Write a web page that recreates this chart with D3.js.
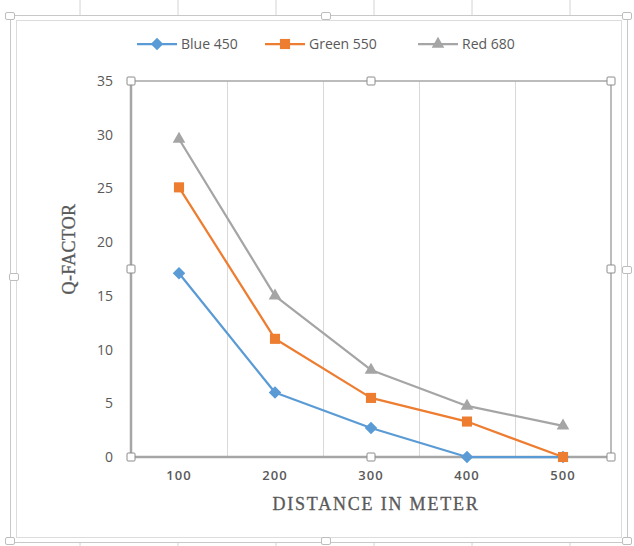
<!DOCTYPE html>
<html>
<head>
<meta charset="utf-8">
<script src="https://cdn.jsdelivr.net/npm/d3@7"></script>
<style>
  html, body { margin: 0; padding: 0; background: #fff; }
  svg { display: block; }
</style>
</head>
<body>
<svg id="chart" width="634" height="546"></svg>
<script>
// Distances along the x axis and Q-factor per wavelength
const distances = ["100", "200", "300", "400", "500"];
const blue450  = [17.1, 6.0, 2.7, 0, 0];
const green550 = [25.1, 11.0, 5.5, 3.3, 0];
const red680   = [29.6, 15.0, 8.1, 4.75, 2.9];
const yTicks   = [0, 5, 10, 15, 20, 25, 30, 35];
const seriesNames = ["Blue 450", "Green 550", "Red 680"];

const series = [
  { name: seriesNames[0], values: blue450,  color: "#5B9BD5", symbol: "diamond" },
  { name: seriesNames[1], values: green550, color: "#ED7D31", symbol: "square" },
  { name: seriesNames[2], values: red680,   color: "#A5A5A5", symbol: "triangle" }
];

const svg = d3.select("#chart");
const plot = { left: 131, right: 611, top: 81, bottom: 457 };

const x = d3.scaleBand().domain(distances).range([plot.left, plot.right]);
const y = d3.scaleLinear().domain([0, 35]).range([plot.bottom, plot.top]);

// Spreadsheet cell lines peeking out above and below the chart frame
const cellCols = [80, 178, 276, 374, 472, 570];
svg.selectAll("line.cell-top").data(cellCols).join("line")
  .attr("x1", d => d).attr("x2", d => d).attr("y1", 0).attr("y2", 15)
  .attr("stroke", "#d4d4d4").attr("stroke-width", 1);
svg.selectAll("line.cell-bot").data(cellCols).join("line")
  .attr("x1", d => d).attr("x2", d => d).attr("y1", 543).attr("y2", 546)
  .attr("stroke", "#d4d4d4").attr("stroke-width", 1);

// Chart frame (selected state: double border)
svg.append("rect").attr("x", 10.5).attr("y", 15.5).attr("width", 617).attr("height", 527)
  .attr("fill", "#fff").attr("stroke", "#c8c8c8").attr("stroke-width", 1);
svg.append("rect").attr("x", 16.5).attr("y", 20.5).attr("width", 605).attr("height", 517)
  .attr("fill", "none").attr("stroke", "#dcdcdc").attr("stroke-width", 1);

// Frame handles
const frameHandles = [[10, 16], [326, 16], [627, 16], [14, 277], [627, 270], [10, 541], [326, 541], [627, 541]];
svg.selectAll("rect.fh").data(frameHandles).join("rect")
  .attr("x", d => d[0] - 4.5).attr("y", d => d[1] - 3.5)
  .attr("width", 9).attr("height", 7).attr("rx", 1.5)
  .attr("fill", "#fff").attr("stroke", "#bdbdbd").attr("stroke-width", 1);

// Vertical gridlines between categories
const gridXs = distances.slice(1).map(d => x(d));
svg.selectAll("line.grid").data(gridXs).join("line")
  .attr("x1", d => d + 0.5).attr("x2", d => d + 0.5)
  .attr("y1", plot.top).attr("y2", plot.bottom)
  .attr("stroke", "#d9d9d9").attr("stroke-width", 1);

// Plot area border
svg.append("rect")
  .attr("x", plot.left).attr("y", plot.top)
  .attr("width", plot.right - plot.left).attr("height", plot.bottom - plot.top)
  .attr("fill", "none").attr("stroke", "#a6a6a6").attr("stroke-width", 1.5);
svg.append("line").attr("x1", plot.left).attr("x2", plot.left)
  .attr("y1", plot.top).attr("y2", plot.bottom)
  .attr("stroke", "#a6a6a6").attr("stroke-width", 2.5);
svg.append("line").attr("x1", plot.left).attr("x2", plot.right)
  .attr("y1", plot.bottom).attr("y2", plot.bottom)
  .attr("stroke", "#a6a6a6").attr("stroke-width", 2.5);

// Y axis labels
const yAxis = d3.axisLeft(y).tickValues(yTicks).tickSize(0).tickPadding(18);
const gy = svg.append("g").attr("transform", `translate(${plot.left},0)`).call(yAxis);
gy.select(".domain").remove();
gy.selectAll("text").attr("font-family", "'Open Sans', sans-serif")
  .attr("font-size", 14).attr("fill", "#595959");

// X axis labels
const xAxis = d3.axisBottom(x).tickSize(0).tickPadding(14);
const gx = svg.append("g").attr("transform", `translate(0,${plot.bottom})`).call(xAxis);
gx.select(".domain").remove();
gx.selectAll("text").attr("font-family", "'Open Sans', sans-serif")
  .attr("font-size", 13).attr("font-weight", 600).attr("letter-spacing", 1)
  .attr("fill", "#595959");

// Axis titles
svg.append("text").attr("x", 376).attr("y", 510)
  .attr("text-anchor", "middle").attr("font-family", "'Liberation Serif', serif")
  .attr("font-size", 18).attr("letter-spacing", 1.8)
  .attr("stroke", "#595959").attr("stroke-width", 0.3)
  .attr("fill", "#595959").text("DISTANCE IN METER");
svg.append("text").attr("transform", "translate(75,249) rotate(-90)")
  .attr("text-anchor", "middle").attr("font-family", "'Liberation Serif', serif")
  .attr("font-size", 18).attr("letter-spacing", 0.3)
  .attr("stroke", "#595959").attr("stroke-width", 0.3)
  .attr("fill", "#595959").text("Q-FACTOR");

// Series lines and markers
const cx = d => x(d) + x.bandwidth() / 2;
const symbolFor = {
  diamond: d3.symbol().type(d3.symbolDiamond2).size(100),
  square: d3.symbol().type(d3.symbolSquare2).size(130),
  triangle: d3.symbol().type(d3.symbolTriangle2).size(115)
};
const line = d3.line().x((d, i) => cx(distances[i])).y(d => y(d));

series.forEach(s => {
  svg.append("path").datum(s.values)
    .attr("d", line).attr("fill", "none")
    .attr("stroke", s.color).attr("stroke-width", 2.25)
    .attr("stroke-linejoin", "round");
});
series.forEach(s => {
  svg.selectAll(null).data(s.values).join("path")
    .attr("transform", (d, i) => `translate(${cx(distances[i])},${y(d)})`)
    .attr("d", symbolFor[s.symbol]).attr("fill", s.color);
});

// Plot area handles
const plotHandles = [
  [plot.left, plot.top], [(plot.left + plot.right) / 2, plot.top], [plot.right, plot.top],
  [plot.left, (plot.top + plot.bottom) / 2 - 0], [plot.right, (plot.top + plot.bottom) / 2],
  [plot.left, plot.bottom], [(plot.left + plot.right) / 2, plot.bottom], [plot.right, plot.bottom]
];
svg.selectAll("rect.ph").data(plotHandles).join("rect")
  .attr("x", d => d[0] - 4).attr("y", d => d[1] - 4)
  .attr("width", 8).attr("height", 8).attr("rx", 1)
  .attr("fill", "#fff").attr("stroke", "#8c8c8c").attr("stroke-width", 1);

// Legend
const legendX = [137, 265, 418];
const legend = svg.selectAll("g.legend").data(series).join("g")
  .attr("transform", (d, i) => `translate(${legendX[i]},44)`);
legend.append("line").attr("x1", 0).attr("x2", 40).attr("y1", 0).attr("y2", 0)
  .attr("stroke", d => d.color).attr("stroke-width", 2.25);
legend.append("path").attr("transform", "translate(20,0)")
  .attr("d", d => symbolFor[d.symbol]()).attr("fill", d => d.color);
legend.append("text").attr("x", 44).attr("y", 5)
  .attr("font-family", "'Open Sans', sans-serif").attr("font-size", 14)
  .attr("fill", "#595959").text(d => d.name);
</script>
</body>
</html>
